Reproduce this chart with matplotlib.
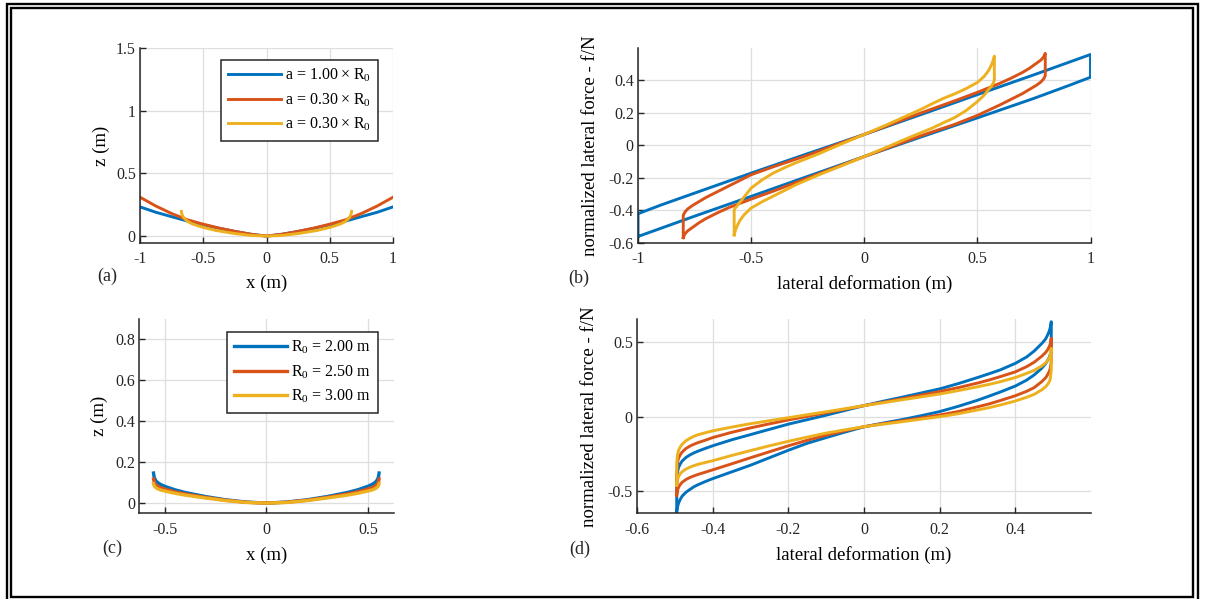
import matplotlib
matplotlib.use('Agg')
import matplotlib.pyplot as plt
from matplotlib.patches import Rectangle
from matplotlib.ticker import FormatStrFormatter

plt.rcParams['font.family'] = 'Liberation Serif'
plt.rcParams['mathtext.fontset'] = 'custom'
plt.rcParams['mathtext.rm'] = 'Liberation Serif'
plt.rcParams['mathtext.it'] = 'Liberation Serif:italic'
plt.rcParams['axes.unicode_minus'] = False

colors = ['#0072BD', '#D95319', '#EDB120']
INK = '#262626'

# (a) deformed profile z(x) for different contact widths
labels_a = [r'a = 1.00$\hspace{0.1}\times\hspace{0.1}$R$_0$',
            r'a = 0.30$\hspace{0.1}\times\hspace{0.1}$R$_0$',
            r'a = 0.30$\hspace{0.1}\times\hspace{0.1}$R$_0$']
x_a_wide = [-1, -0.875, -0.75, -0.625, -0.5, -0.375, -0.25, -0.125, 0,
            0.125, 0.25, 0.375, 0.5, 0.625, 0.75, 0.875, 1]
z_a_blue = [0.233, 0.19, 0.155, 0.12, 0.09, 0.062, 0.037, 0.015, 0,
            0.015, 0.037, 0.062, 0.09, 0.12, 0.155, 0.19, 0.233]
z_a_red = [0.31, 0.24, 0.18, 0.13, 0.095, 0.064, 0.038, 0.015, 0,
           0.015, 0.038, 0.064, 0.095, 0.13, 0.18, 0.24, 0.31]
x_a_yellow = [-0.673, -0.67, -0.665, -0.655, -0.64, -0.62, -0.59, -0.55, -0.51, -0.4, -0.26, -0.13, 0,
              0.13, 0.26, 0.4, 0.51, 0.55, 0.59, 0.62, 0.64, 0.655, 0.665, 0.67, 0.673]
z_a_yellow = [0.197, 0.18, 0.165, 0.148, 0.131, 0.115, 0.099, 0.085, 0.072, 0.045, 0.022, 0.006, 0,
              0.006, 0.022, 0.045, 0.072, 0.085, 0.099, 0.115, 0.131, 0.148, 0.165, 0.18, 0.197]

# (b) force-deformation loops, same three cases
x_b_blue = [-1, -0.9, -0.75, -0.5, -0.25, 0, 0.25, 0.5, 0.75, 0.9, 1]
lo_b_blue = [-0.56, -0.51, -0.435, -0.313, -0.19, -0.068, 0.052, 0.17, 0.29, 0.367, 0.42]
up_b_blue = [-0.42, -0.367, -0.293, -0.17, -0.05, 0.068, 0.19, 0.313, 0.435, 0.51, 0.56]
x_b_red = [-0.8, -0.795, -0.79, -0.78, -0.76, -0.73, -0.7, -0.65, -0.6, -0.5, -0.4, -0.25, 0,
           0.25, 0.4, 0.5, 0.6, 0.65, 0.7, 0.73, 0.76, 0.78, 0.79, 0.795, 0.8]
lo_b_red = [-0.567, -0.55, -0.54, -0.525, -0.505, -0.475, -0.45, -0.415, -0.383, -0.33, -0.28, -0.2, -0.068,
            0.06, 0.13, 0.185, 0.25, 0.285, 0.32, 0.345, 0.37, 0.39, 0.405, 0.415, 0.43]
up_b_red = [-0.43, -0.415, -0.405, -0.39, -0.37, -0.345, -0.32, -0.285, -0.25, -0.18, -0.13, -0.06, 0.068,
            0.2, 0.275, 0.327, 0.383, 0.415, 0.45, 0.475, 0.505, 0.525, 0.54, 0.55, 0.567]
x_b_yellow = [-0.575, -0.57, -0.565, -0.56, -0.55, -0.53, -0.5, -0.45, -0.4, -0.35, -0.3, -0.25,
              -0.2, -0.1, 0, 0.1, 0.2, 0.25, 0.3, 0.35, 0.4, 0.45, 0.5, 0.53, 0.55, 0.56,
              0.565, 0.57, 0.575]
lo_b_yellow = [-0.55, -0.525, -0.505, -0.49, -0.462, -0.425, -0.385, -0.345, -0.31, -0.275, -0.24, -0.21,
               -0.18, -0.125, -0.068, -0.01, 0.05, 0.078, 0.107, 0.14, 0.172, 0.215, 0.27, 0.31, 0.345,
               0.362, 0.372, 0.383, 0.40]
up_b_yellow = [-0.395, -0.385, -0.377, -0.367, -0.35, -0.315, -0.262, -0.21, -0.168, -0.135, -0.105, -0.078,
               -0.05, 0.01, 0.068, 0.128, 0.19, 0.222, 0.257, 0.29, 0.318, 0.35, 0.388, 0.425, 0.462,
               0.49, 0.505, 0.525, 0.55]

# (c) profiles for different tyre radii
labels_c = [r'R$_0$ = 2.00 m', r'R$_0$ = 2.50 m', r'R$_0$ = 3.00 m']
x_c = [-0.555, -0.553, -0.55, -0.545, -0.54, -0.53, -0.52, -0.5, -0.45, -0.4, -0.3, -0.2, -0.1, 0,
       0.1, 0.2, 0.3, 0.4, 0.45, 0.5, 0.52, 0.53, 0.54, 0.545, 0.55, 0.553, 0.555]
z_c_blue = [0.147, 0.133, 0.122, 0.112, 0.105, 0.097, 0.091, 0.082, 0.065, 0.052, 0.032, 0.016, 0.005, 0,
            0.005, 0.016, 0.032, 0.052, 0.065, 0.082, 0.091, 0.097, 0.105, 0.112, 0.122, 0.133, 0.147]
z_c_red = [0.118, 0.108, 0.099, 0.092, 0.087, 0.08, 0.075, 0.069, 0.055, 0.045, 0.028, 0.014, 0.004, 0,
           0.004, 0.014, 0.028, 0.045, 0.055, 0.069, 0.075, 0.08, 0.087, 0.092, 0.099, 0.108, 0.118]
z_c_yellow = [0.095, 0.088, 0.082, 0.077, 0.073, 0.068, 0.064, 0.059, 0.048, 0.039, 0.025, 0.012, 0.003, 0,
              0.003, 0.012, 0.025, 0.039, 0.048, 0.059, 0.064, 0.068, 0.073, 0.077, 0.082, 0.088, 0.095]

# (d) force-deformation loops for the three radii
x_d = [-0.495, -0.4925, -0.49, -0.485, -0.48, -0.47, -0.46, -0.45, -0.44, -0.42, -0.4, -0.35,
       -0.3, -0.25, -0.2, -0.15, -0.1, -0.05, 0, 0.05, 0.1, 0.15, 0.2, 0.25, 0.3, 0.33, 0.36,
       0.4, 0.43, 0.45, 0.47, 0.48, 0.485, 0.49, 0.4925, 0.495]
lo_d_blue = [-0.636, -0.60, -0.578, -0.55, -0.53, -0.505, -0.487, -0.47, -0.457, -0.435, -0.415, -0.37,
             -0.325, -0.275, -0.225, -0.178, -0.14, -0.103, -0.068, -0.043, -0.02, 0.006, 0.034, 0.07,
             0.11, 0.137, 0.165, 0.205, 0.245, 0.28, 0.325, 0.355, 0.375, 0.40, 0.418, 0.44]
up_d_blue = [-0.43, -0.365, -0.34, -0.313, -0.295, -0.272, -0.256, -0.243, -0.232, -0.213, -0.195, -0.155,
             -0.12, -0.085, -0.05, -0.02, 0.01, 0.042, 0.074, 0.103, 0.13, 0.158, 0.186, 0.222,
             0.262, 0.287, 0.313, 0.357, 0.40, 0.44, 0.49, 0.52, 0.545, 0.575, 0.60, 0.636]
lo_d_red = [-0.525, -0.49, -0.472, -0.452, -0.438, -0.42, -0.407, -0.397, -0.388, -0.372, -0.356, -0.316,
            -0.275, -0.235, -0.195, -0.158, -0.124, -0.094, -0.067, -0.047, -0.028, -0.009, 0.011, 0.035,
            0.066, 0.085, 0.108, 0.14, 0.17, 0.195, 0.235, 0.26, 0.28, 0.305, 0.325, 0.368]
up_d_red = [-0.38, -0.30, -0.277, -0.252, -0.235, -0.212, -0.197, -0.185, -0.175, -0.158, -0.14, -0.105,
            -0.075, -0.048, -0.022, 0.002, 0.026, 0.05, 0.074, 0.097, 0.12, 0.144, 0.168, 0.195,
            0.225, 0.245, 0.268, 0.30, 0.335, 0.365, 0.405, 0.43, 0.447, 0.47, 0.49, 0.525]
lo_d_yellow = [-0.458, -0.42, -0.40, -0.38, -0.367, -0.35, -0.338, -0.328, -0.32, -0.307, -0.295, -0.26,
               -0.227, -0.195, -0.165, -0.137, -0.11, -0.088, -0.067, -0.05, -0.034, -0.017, 0.0, 0.02,
               0.045, 0.06, 0.078, 0.105, 0.13, 0.15, 0.18, 0.2, 0.215, 0.235, 0.255, 0.313]
up_d_yellow = [-0.31, -0.25, -0.225, -0.2, -0.183, -0.16, -0.145, -0.132, -0.122, -0.108, -0.095, -0.07,
               -0.047, -0.027, -0.007, 0.013, 0.033, 0.053, 0.074, 0.093, 0.113, 0.132, 0.152, 0.175,
               0.2, 0.216, 0.234, 0.262, 0.29, 0.31, 0.34, 0.36, 0.375, 0.395, 0.415, 0.458]

W, H = 1205, 599


def fig_box(left, top, right, bottom):
    return [left / W, 1 - bottom / H, (right - left) / W, (bottom - top) / H]


def style(ax, xlim, ylim, xticks, yticks):
    ax.set_xlim(xlim)
    ax.set_ylim(ylim)
    ax.set_xticks(xticks)
    ax.set_yticks(yticks)
    ax.xaxis.set_major_formatter(FormatStrFormatter('%g'))
    ax.yaxis.set_major_formatter(FormatStrFormatter('%g'))
    ax.grid(True, color='#dedede', lw=0.9)
    ax.set_axisbelow(True)
    for s in ['top', 'right']:
        ax.spines[s].set_visible(False)
    for s in ['left', 'bottom']:
        ax.spines[s].set_color(INK)
        ax.spines[s].set_linewidth(1.1)
    ax.tick_params(direction='in', length=4, width=1, colors=INK, labelsize=11.5)
    ax.tick_params(axis='x', pad=6)
    ax.tick_params(axis='y', pad=3)


def draw_loop(ax, x, lower, upper, color):
    xs = list(x) + list(x[::-1]) + [x[0]]
    ys = list(lower) + list(upper[::-1]) + [lower[0]]
    ax.plot(xs, ys, color=color, lw=2.1, solid_joinstyle='round')


fig = plt.figure(figsize=(W / 100, H / 100), dpi=100)
ax_a = fig.add_axes(fig_box(140, 48, 393, 243))
ax_b = fig.add_axes(fig_box(638, 48, 1090.5, 243))
ax_c = fig.add_axes(fig_box(139.3, 319, 394.3, 513.3))
ax_d = fig.add_axes(fig_box(637, 319.3, 1091, 513.3))

# (a)
ax_a.plot(x_a_wide, z_a_blue, color=colors[0], lw=2.1, label=labels_a[0])
ax_a.plot(x_a_wide, z_a_red, color=colors[1], lw=2.1, label=labels_a[1])
ax_a.plot(x_a_yellow, z_a_yellow, color=colors[2], lw=2.1, label=labels_a[2])
style(ax_a, (-1, 1), (-0.055, 1.5), [-1, -0.5, 0, 0.5, 1], [0, 0.5, 1, 1.5])
ax_a.set_xlabel('x (m)', fontsize=13.5)
ax_a.set_ylabel('z (m)', fontsize=13.5)
ax_a.xaxis.set_label_coords(0.5, -0.164)
ax_a.yaxis.set_label_coords(-0.12, 0.5)

# (b)
draw_loop(ax_b, x_b_blue, lo_b_blue, up_b_blue, colors[0])
draw_loop(ax_b, x_b_red, lo_b_red, up_b_red, colors[1])
draw_loop(ax_b, x_b_yellow, lo_b_yellow, up_b_yellow, colors[2])
style(ax_b, (-1, 1), (-0.6, 0.6), [-1, -0.5, 0, 0.5, 1], [-0.6, -0.4, -0.2, 0, 0.2, 0.4])
ax_b.set_xlabel('lateral deformation (m)', fontsize=13.5)
ax_b.set_ylabel('normalized lateral force - f/N', fontsize=13.5)
ax_b.xaxis.set_label_coords(0.5, -0.164)
ax_b.yaxis.set_label_coords(-0.086, 0.5)

# (c)
ax_c.plot(x_c, z_c_blue, color=colors[0], lw=2.4, label=labels_c[0])
ax_c.plot(x_c, z_c_red, color=colors[1], lw=2.4, label=labels_c[1])
ax_c.plot(x_c, z_c_yellow, color=colors[2], lw=2.4, label=labels_c[2])
style(ax_c, (-0.625, 0.63), (-0.05, 0.9), [-0.5, 0, 0.5], [0, 0.2, 0.4, 0.6, 0.8])
ax_c.set_xlabel('x (m)', fontsize=13.5)
ax_c.set_ylabel('z (m)', fontsize=13.5)
ax_c.xaxis.set_label_coords(0.5, -0.173)
ax_c.yaxis.set_label_coords(-0.121, 0.5)

# (d)
draw_loop(ax_d, x_d, lo_d_blue, up_d_blue, colors[0])
draw_loop(ax_d, x_d, lo_d_red, up_d_red, colors[1])
draw_loop(ax_d, x_d, lo_d_yellow, up_d_yellow, colors[2])
style(ax_d, (-0.6, 0.6), (-0.647, 0.652), [-0.6, -0.4, -0.2, 0, 0.2, 0.4], [-0.5, 0, 0.5])
ax_d.set_xlabel('lateral deformation (m)', fontsize=13.5)
ax_d.set_ylabel('normalized lateral force - f/N', fontsize=13.5)
ax_d.xaxis.set_label_coords(0.5, -0.168)
ax_d.yaxis.set_label_coords(-0.086, 0.5)

for ax, anchor in [(ax_a, (0.94, 0.94)), (ax_c, (0.936, 0.935))]:
    leg = ax.legend(loc='upper right', bbox_to_anchor=anchor, borderaxespad=0,
                    fancybox=False, framealpha=1, edgecolor=INK, fontsize=11.5,
                    handlelength=3.3, handletextpad=0.25, labelspacing=0.45,
                    borderpad=0.45)
    leg.get_frame().set_linewidth(1.1)

# panel tags
for tag, px, py in [('(a)', 107.5, 276.7), ('(b)', 579, 278),
                    ('(c)', 112.5, 548.3), ('(d)', 579.7, 549)]:
    fig.text(px / W, 1 - py / H, tag, ha='center', va='center', fontsize=13, color=INK)

# double frame around the whole figure
for l, t, r, b in [(7, 4, 1198, 603), (11, 8, 1193, 596.5)]:
    fig.add_artist(Rectangle((l / W, 1 - b / H), (r - l) / W, (b - t) / H,
                             transform=fig.transFigure, fill=False, ec='black', lw=1.7))

fig.savefig('out.png', dpi=100)
